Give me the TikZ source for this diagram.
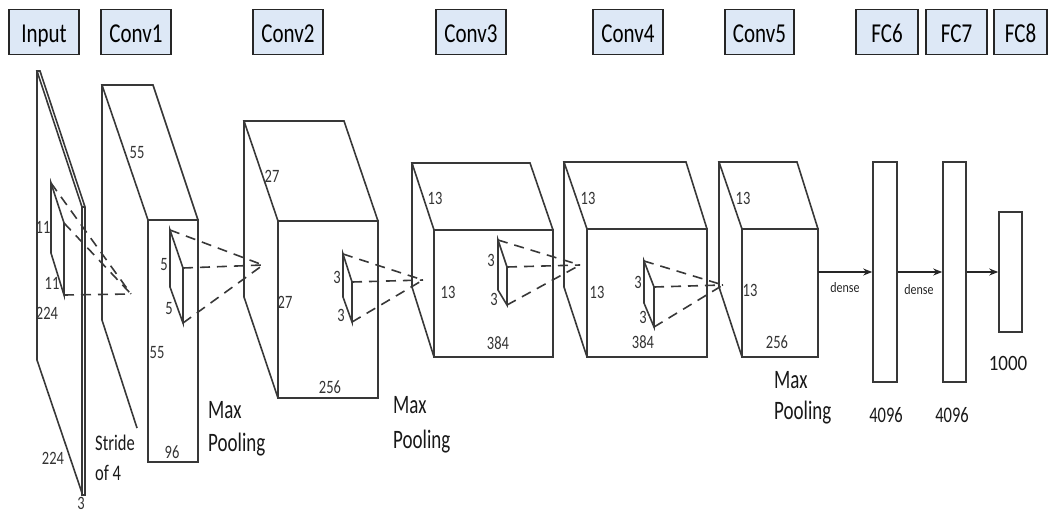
\documentclass[tikz,border=0pt]{standalone}
\usepackage{fontspec}
\setmainfont{Carlito}
\usepackage{graphicx}
\usetikzlibrary{arrows.meta}
\definecolor{hdrblue}{RGB}{221,232,246}
\newcommand{\vst}[2][1.3]{\scalebox{1}[#1]{#2}}
\begin{document}
\begin{tikzpicture}[x=1pt,y=-1pt,
  edge/.style={draw=black!78, line width=1.6pt, line join=miter},
  dashedge/.style={draw=black!78, line width=1.6pt, dash pattern=on 10pt off 7pt},
  hdr/.style={draw=black!85, line width=1.4pt, fill=hdrblue, minimum height=45pt, inner sep=0pt, text height=20pt, text depth=0pt, font=\fontsize{21}{21}\selectfont},
  num/.style={inner sep=0pt, font=\fontsize{14.5}{14.5}\selectfont, text=black!80},
  big/.style={inner sep=0pt, font=\fontsize{19}{19}\selectfont, text=black!90},
  mid/.style={inner sep=0pt, font=\fontsize{16.5}{16.5}\selectfont, text=black!90},
  small/.style={inner sep=0pt, font=\fontsize{12}{12}\selectfont, text=black!85},
  fcbox/.style={draw=black!78, line width=1.6pt, inner sep=0pt},
  arr/.style={draw=black!85, line width=1.5pt, -{Stealth[length=9pt,width=7pt]}}
]
\useasboundingbox (0,0) rectangle (1048,512);

% ---------- headers ----------
\node[hdr, minimum width=70pt] (hin) at (44,32) {\vst{Input}};
\node[hdr, minimum width=70pt] (hc1) at (136,32) {\vst{Conv1}};
\node[hdr, minimum width=70pt] (hc2) at (288,32) {\vst{Conv2}};
\node[hdr, minimum width=70pt] (hc3) at (471,32) {\vst{Conv3}};
\node[hdr, minimum width=70pt] (hc4) at (628,32) {\vst{Conv4}};
\node[hdr, minimum width=69pt] (hc5) at (759.5,32) {\vst{Conv5}};
\node[hdr, minimum width=62pt] (hf6) at (887,32) {\vst{FC6}};
\node[hdr, minimum width=61pt] (hf7) at (956.5,32) {\vst{FC7}};
\node[hdr, minimum width=53pt] (hf8) at (1020.5,32) {\vst{FC8}};

% ---------- input plane ----------
\draw[edge] (37,71) -- (40,71) -- (85,207) -- (85,495) -- (82,495) -- (82,207) -- cycle;
\draw[edge] (82,207) -- (85,207);
\draw[edge] (37,71) -- (37,360) -- (82,493);
% input filter
\draw[edge] (51,183) -- (51,253) -- (64,295) -- (64,223) -- cycle;
\coordinate (p1) at (131,294);
\draw[dashedge] (51,183) -- (p1);
\draw[dashedge] (64,223) -- (p1);
\draw[dashedge] (64,295) -- (p1);

% ---------- conv1 ----------
\draw[edge] (148,220) rectangle (198,462);
\draw[edge] (148,220) -- (102,85) -- (153,85) -- (198,220);
\draw[edge] (102,85) -- (102,320) -- (137,428);
\draw[edge] (170,230) -- (170,287) -- (183,323) -- (183,268) -- cycle;
\coordinate (p2) at (263,265);
\draw[dashedge] (170,230) -- (p2);
\draw[dashedge] (183,268) -- (p2);
\draw[dashedge] (183,323) -- (p2);

% ---------- conv2 ----------
\draw[edge] (278,221) rectangle (378,398);
\draw[edge] (278,221) -- (244,121) -- (344,121) -- (378,221);
\draw[edge] (244,121) -- (244,297) -- (278,398);
\draw[edge] (343,254) -- (343,297) -- (352,322) -- (352,282) -- cycle;
\coordinate (p3) at (423,280);
\draw[dashedge] (343,254) -- (p3);
\draw[dashedge] (352,282) -- (p3);
\draw[dashedge] (352,322) -- (p3);

% ---------- conv3 ----------
\draw[edge] (434,230) rectangle (553,357);
\draw[edge] (434,230) -- (412,163) -- (530,163) -- (553,230);
\draw[edge] (412,163) -- (412,287) -- (434,357);
\draw[edge] (498,240) -- (498,290) -- (507,305) -- (507,267) -- cycle;
\coordinate (p4) at (580,265);
\draw[dashedge] (498,240) -- (p4);
\draw[dashedge] (507,267) -- (p4);
\draw[dashedge] (507,305) -- (p4);

% ---------- conv4 ----------
\draw[edge] (587,229) rectangle (707,357);
\draw[edge] (587,229) -- (564,162) -- (686,162) -- (707,229);
\draw[edge] (564,162) -- (564,287) -- (587,357);
\draw[edge] (644,261) -- (644,303) -- (654,327) -- (654,287) -- cycle;
\coordinate (p5) at (723,285);
\draw[dashedge] (644,261) -- (p5);
\draw[dashedge] (654,287) -- (p5);
\draw[dashedge] (654,327) -- (p5);

% ---------- conv5 ----------
\draw[edge] (742,229) rectangle (818,357);
\draw[edge] (742,229) -- (719,162) -- (797,162) -- (818,229);
\draw[edge] (719,162) -- (719,287) -- (742,357);
\coordinate (c5) at (818,272);

% ---------- fully connected ----------
\node[fcbox, minimum width=24pt, minimum height=220pt] (fc6) at (885,272) {};
\node[fcbox, minimum width=23pt, minimum height=220pt] (fc7) at (954.5,272) {};
\node[fcbox, minimum width=23pt, minimum height=120pt] (fc8) at (1010.5,272) {};
\draw[arr] (c5) -- (fc6.west);
\draw[arr] (fc6.east) -- (fc7.west);
\draw[arr] (fc7.east) -- (fc8.west);

% ---------- labels ----------
\node[num] (l11a) at (43,227) {\vst{11}};
\node[num] (l11b) at (52,283) {\vst{11}};
\node[num] (l224a) at (47,313) {\vst{224}};
\node[num] (l224b) at (53,458) {\vst{224}};
\node[num] (l3in) at (81,503) {\vst{3}};

\node[num] (l55a) at (137,153) {\vst{55}};
\node[num] (l55b) at (157,353) {\vst{55}};
\node[num] (l96) at (172,452) {\vst{96}};
\node[num] (l5a) at (164,265) {\vst{5}};
\node[num] (l5b) at (169,309) {\vst{5}};
\node[mid, anchor=west] (lstr) at (95,443) {\vst[1.35]{Stride}};
\node[mid, anchor=west] (lof) at (95,473) {\vst[1.35]{of 4}};
\node[big, anchor=west] (lmax1) at (208,410) {\vst[1.4]{Max}};
\node[big, anchor=west] (lpool1) at (208,445) {\vst[1.4]{Pooling}};

\node[num] (l27a) at (272,176) {\vst{27}};
\node[num] (l27b) at (285,302) {\vst{27}};
\node[num] (l256a) at (330,387) {\vst{256}};
\node[num] (l3a) at (337,277) {\vst{3}};
\node[num] (l3b) at (341,315) {\vst{3}};
\node[big, anchor=west] (lmax2) at (393,405) {\vst[1.4]{Max}};
\node[big, anchor=west] (lpool2) at (393,442) {\vst[1.4]{Pooling}};

\node[num] (l13a) at (435,198) {\vst{13}};
\node[num] (l13b) at (448,292) {\vst{13}};
\node[num] (l384a) at (498,343) {\vst{384}};
\node[num] (l3c) at (491,260) {\vst{3}};
\node[num] (l3d) at (494,299) {\vst{3}};

\node[num] (l13c) at (588,198) {\vst{13}};
\node[num] (l13d) at (597,292) {\vst{13}};
\node[num] (l384b) at (643,342) {\vst{384}};
\node[num] (l3e) at (638,282) {\vst{3}};
\node[num] (l3f) at (643,317) {\vst{3}};

\node[num] (l13e) at (743,198) {\vst{13}};
\node[num] (l13f) at (750,290) {\vst{13}};
\node[num] (l256b) at (777,342) {\vst{256}};
\node[big, anchor=west] (lmax3) at (774,380) {\vst[1.4]{Max}};
\node[big, anchor=west] (lpool3) at (774,413) {\vst[1.4]{Pooling}};

\node[small] (ld1) at (845,288) {\vst[1.2]{dense}};
\node[small] (ld2) at (919,290) {\vst[1.2]{dense}};
\node[mid] (l4096a) at (886,415) {\vst[1.35]{4096}};
\node[mid] (l4096b) at (952,415) {\vst[1.35]{4096}};
\node[big] (l1000) at (1008,363) {\vst[1.15]{1000}};
\end{tikzpicture}
\end{document}
